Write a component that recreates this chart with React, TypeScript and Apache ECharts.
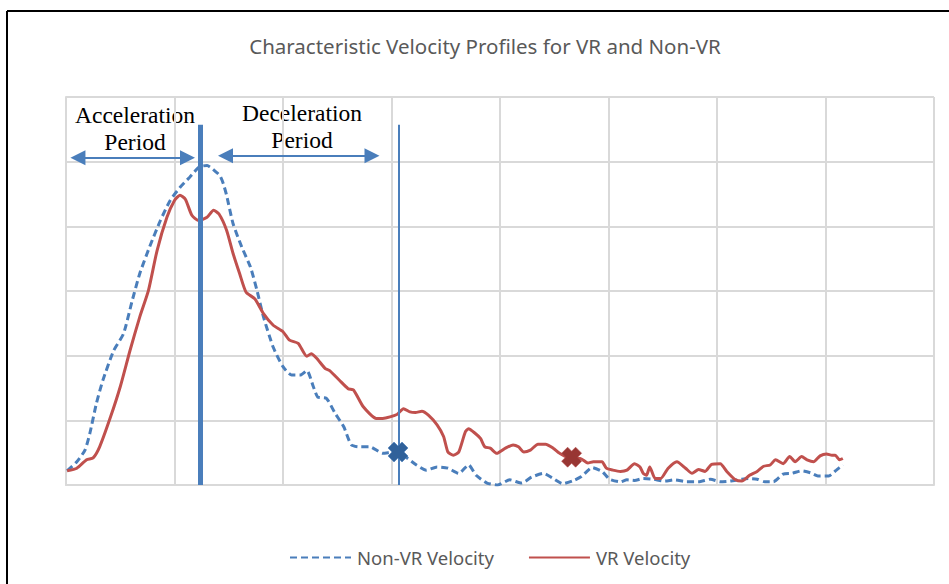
import React, { useEffect, useRef } from "react";
import * as echarts from "echarts";

const seriesNames = ["Non-VR Velocity", "VR Velocity"];
const chartTitle = "Characteristic Velocity Profiles for VR and Non-VR";

const nonVrVelocity: [number, number][] = [
  [1, 0.22], [10, 0.36], [17.5, 0.54], [22, 0.8], [28, 1.26], [34, 1.62], [44, 2.08], [53, 2.34],
  [61, 2.85], [68, 3.27], [77, 3.68], [87, 4.09], [96, 4.4], [105, 4.6], [114, 4.76], [123, 4.92],
  [130, 4.94], [139, 4.83], [142, 4.78], [145, 4.66], [148, 4.48], [154, 4.04], [162, 3.68],
  [170, 3.37], [176, 3.01], [182, 2.6], [191, 2.13], [200, 1.83], [208, 1.7], [216, 1.7],
  [222, 1.77], [228, 1.52], [232, 1.36], [240, 1.34], [248, 1.11], [256, 0.9], [263, 0.62],
  [271, 0.59], [280, 0.59], [292, 0.49], [302, 0.51], [308, 0.51], [315, 0.41], [323, 0.31],
  [332, 0.23], [342, 0.28], [352, 0.26], [362, 0.18], [371, 0.31], [378, 0.15], [388, 0.03],
  [398, 0.0], [409, 0.08], [420, 0.03], [429, 0.12], [440, 0.18], [449, 0.1], [458, 0.02],
  [468, 0.07], [475, 0.13], [485, 0.27], [494, 0.21], [501, 0.09], [511, 0.05], [517, 0.08],
  [524, 0.07], [532, 0.1], [541, 0.09], [552, 0.06], [561, 0.08], [572, 0.05], [583, 0.05],
  [594, 0.09], [603, 0.05], [612, 0.06], [623, 0.09], [629, 0.1], [637, 0.09], [644, 0.05],
  [652, 0.05], [661, 0.17], [669, 0.18], [678, 0.22], [686, 0.19], [693, 0.14], [703, 0.14],
  [710, 0.23], [716, 0.31],
];

const vrVelocity: [number, number][] = [
  [1, 0.22], [10, 0.26], [19, 0.39], [25, 0.42], [31, 0.59], [41, 1.05], [50, 1.52], [59, 2.08],
  [68, 2.6], [76, 3.01], [84, 3.63], [93, 4.14], [100, 4.4], [105, 4.48], [110, 4.42], [116, 4.17],
  [122, 4.09], [130, 4.14], [136, 4.25], [141, 4.19], [148, 3.94], [154, 3.58], [160, 3.27],
  [166, 2.98], [174, 2.88], [182, 2.65], [191, 2.47], [200, 2.37], [206, 2.24], [214, 2.19],
  [222, 1.99], [226, 2.03], [231, 1.96], [239, 1.8], [243, 1.77], [252, 1.62], [260, 1.49],
  [265, 1.47], [274, 1.21], [286, 1.03], [292, 1.03], [305, 1.09], [311, 1.18], [317, 1.13],
  [322, 1.12], [328, 1.14], [334, 1.08], [342, 0.93], [348, 0.75], [352, 0.51], [357, 0.46],
  [362, 0.51], [368, 0.82], [371, 0.87], [377, 0.8], [382, 0.72], [386, 0.59], [391, 0.57],
  [397, 0.49], [405, 0.57], [412, 0.62], [417, 0.59], [422, 0.51], [428, 0.54], [435, 0.63],
  [442, 0.63], [449, 0.57], [455, 0.49], [465, 0.41], [474, 0.41], [481, 0.34], [486, 0.36],
  [494, 0.36], [498, 0.26], [504, 0.23], [511, 0.21], [517, 0.23], [524, 0.33], [529, 0.28],
  [532, 0.18], [535, 0.15], [538, 0.28], [543, 0.1], [548, 0.1], [555, 0.26], [563, 0.36],
  [571, 0.26], [577, 0.18], [583, 0.24], [589, 0.21], [595, 0.32], [603, 0.33], [609, 0.21],
  [617, 0.08], [623, 0.06], [630, 0.15], [637, 0.21], [643, 0.29], [649, 0.31], [654, 0.39],
  [661, 0.33], [667, 0.44], [672, 0.36], [678, 0.44], [683, 0.39], [689, 0.36], [695, 0.45],
  [701, 0.48], [706, 0.46], [709, 0.46], [713, 0.39], [716, 0.41],
];

const peakTime = 124;
const decelEndTime = 307;
const dividerTop = 5.57;
const markerNonVR: [number, number] = [306, 0.51];
const markerVR: [number, number] = [466, 0.43];
const accelArrow: [number, number][] = [[11, 5.06], [112, 5.06]];
const decelArrow: [number, number][] = [[147, 5.09], [282, 5.09]];

const xMin = 0;
const xMax = 800;
const xInterval = 100;
const yMin = 0;
const yMax = 6;
const yInterval = 1;

const blue = "#4a7ebb";
const red = "#c0504d";
const grid = "#d9d9d9";
const crossPath =
  "path://M0,3 L3,0 L5,2 L7,0 L10,3 L8,5 L10,7 L7,10 L5,8 L3,10 L0,7 L2,5 Z";

export default function App() {
  const ref = useRef<HTMLDivElement>(null);
  useEffect(() => {
    if (!ref.current) return;
    const chart = echarts.init(ref.current, undefined, { renderer: "svg" });
    const serif = "'Liberation Serif', 'Times New Roman', serif";
    const sans = "'Noto Sans', 'Open Sans', sans-serif";
    const annot = { fontFamily: serif, fontSize: 23.5, fill: "#000", align: "center", verticalAlign: "middle" };
    chart.setOption({
      animation: false,
      backgroundColor: "#ffffff",
      title: {
        text: chartTitle,
        left: 480,
        top: 30,
        textAlign: "center",
        textStyle: { fontFamily: sans, fontSize: 20.5, fontWeight: "normal", color: "#595959" },
      },
      legend: {
        data: seriesNames,
        left: 289,
        top: 548,
        padding: 0,
        itemWidth: 61,
        itemHeight: 14,
        itemGap: 34,
        itemStyle: { opacity: 0 },
        textStyle: { fontFamily: sans, fontSize: 18.5, color: "#595959", padding: [0, 0, 0, 1] },
      },
      grid: { left: 66, top: 97, width: 868, height: 388, containLabel: false },
      xAxis: {
        type: "value",
        min: xMin,
        max: xMax,
        interval: xInterval,
        axisLabel: { show: false },
        axisTick: { show: false },
        axisLine: { show: true, lineStyle: { color: grid, width: 2 } },
        splitLine: { show: true, lineStyle: { color: grid, width: 2 } },
      },
      yAxis: {
        type: "value",
        min: yMin,
        max: yMax,
        interval: yInterval,
        axisLabel: { show: false },
        axisTick: { show: false },
        axisLine: { show: true, lineStyle: { color: grid, width: 2 } },
        splitLine: { show: true, lineStyle: { color: grid, width: 2 } },
      },
      series: [
        {
          name: seriesNames[0],
          type: "line",
          data: nonVrVelocity,
          symbol: "none",
          smooth: 0.2,
          lineStyle: { color: blue, width: 3, type: [7, 4] },
          itemStyle: { color: blue },
          z: 3,
          markLine: {
            silent: true,
            label: { show: false },
            symbol: ["none", "none"],
            data: [
              [
                { coord: [peakTime, yMin], lineStyle: { color: blue, width: 5, type: "solid" } },
                { coord: [peakTime, dividerTop] },
              ],
              [
                { coord: [decelEndTime, yMin], lineStyle: { color: blue, width: 2, type: "solid" } },
                { coord: [decelEndTime, dividerTop] },
              ],
              [
                {
                  coord: accelArrow[0],
                  symbol: "triangle",
                  symbolSize: [15, 15],
                  lineStyle: { color: blue, width: 2, type: "solid" },
                },
                { coord: accelArrow[1], symbol: "triangle", symbolSize: [15, 15] },
              ],
              [
                {
                  coord: decelArrow[0],
                  symbol: "triangle",
                  symbolSize: [15, 15],
                  lineStyle: { color: blue, width: 2, type: "solid" },
                },
                { coord: decelArrow[1], symbol: "triangle", symbolSize: [15, 15] },
              ],
            ],
          },
          markPoint: {
            silent: true,
            symbol: crossPath,
            symbolSize: 20,
            label: { show: false },
            itemStyle: { color: "#30619a", borderColor: "#4a7ebb", borderWidth: 0.6 },
            data: [{ coord: markerNonVR }],
          },
        },
        {
          name: seriesNames[1],
          type: "line",
          data: vrVelocity,
          symbol: "none",
          smooth: 0.2,
          lineStyle: { color: red, width: 3 },
          itemStyle: { color: red },
          z: 4,
          markPoint: {
            silent: true,
            symbol: crossPath,
            symbolSize: 20,
            label: { show: false },
            itemStyle: { color: "#983633", borderColor: "#b4494a", borderWidth: 0.6 },
            data: [{ coord: markerVR }],
          },
        },
      ],
      graphic: [
        { type: "line", shape: { x1: 7, y1: 11, x2: 949, y2: 11 }, style: { stroke: "#000", lineWidth: 2 } },
        { type: "line", shape: { x1: 7, y1: 11, x2: 7, y2: 584 }, style: { stroke: "#000", lineWidth: 2 } },
        { type: "text", x: 135, y: 115, style: { ...annot, text: "Acceleration" } },
        { type: "text", x: 135, y: 142, style: { ...annot, text: "Period" } },
        { type: "text", x: 302, y: 113, style: { ...annot, text: "Deceleration" } },
        { type: "text", x: 302, y: 140, style: { ...annot, text: "Period" } },
      ],
    });
    return () => chart.dispose();
  }, []);
  return (
    <div
      ref={ref}
      style={{ position: "fixed", left: 0, top: 0, width: 949, height: 584, background: "#fff" }}
    />
  );
}
